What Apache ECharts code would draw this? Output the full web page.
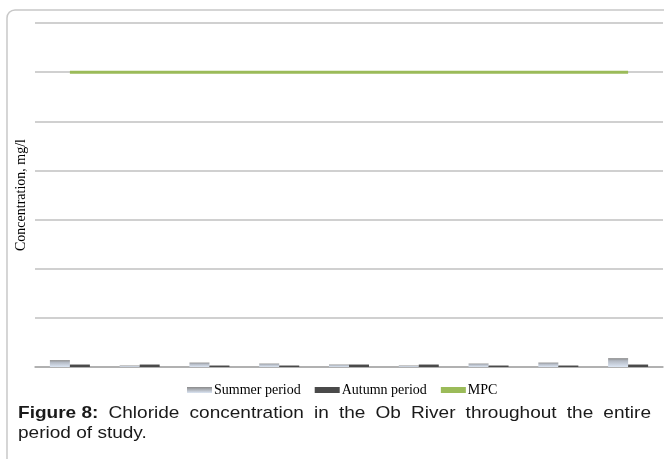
<!DOCTYPE html>
<html><head><meta charset="utf-8">
<script src="https://cdn.jsdelivr.net/npm/echarts@6/dist/echarts.min.js"></script>
<style>html,body{margin:0;padding:0;background:#fff}#c{width:664px;height:459px}</style>
</head><body><div id="c"></div>
<script>
const categories = ['1','2','3','4','5','6','7','8','9'];
const summerValues = [7, 1.5, 4.5, 3.5, 2.5, 1.5, 3.5, 4.5, 9];
const autumnValues = [2.5, 2.5, 1.5, 1.5, 2.5, 2.5, 1.5, 1.5, 2.5];
const mpcValues = [300, 300, 300, 300, 300, 300, 300, 300, 300];
const yMin = 0, yMax = 350, yStep = 50;
const seriesNames = ['Summer period', 'Autumn period', 'MPC'];
const yTitle = 'Concentration, mg/l';
const captionBold = 'Figure 8:';
const captionLine1 = 'Chloride concentration in the Ob River throughout the entire';
const captionLine2 = 'period of study.';

const chart = echarts.init(document.getElementById('c'));

// justified caption
const ctx = document.createElement('canvas').getContext('2d');
const fs = 17, fam = '"Liberation Sans", Arial, sans-serif', sx = 1.12;
const words = [{t: captionBold, b: true}].concat(captionLine1.split(' ').map(t => ({t, b: false})));
let total = 0;
words.forEach(w => { ctx.font = (w.b ? 'bold ' : '') + fs + 'px ' + fam; w.w = ctx.measureText(w.t).width * sx; total += w.w; });
const x0 = 18, x1 = 651;
const gap = (x1 - x0 - total) / (words.length - 1);
let cx = x0;
const capEls = [];
words.forEach(w => {
  capEls.push({type: 'text', x: cx, y: 405, scaleX: sx, style: {text: w.t, x: 0, y: 0, font: (w.b ? 'bold ' : '') + fs + 'px ' + fam, fill: '#1a1a1a'}});
  cx += w.w + gap;
});
capEls.push({type: 'text', x: x0, y: 425, scaleX: sx, style: {text: captionLine2, x: 0, y: 0, font: fs + 'px ' + fam, fill: '#1a1a1a'}});

const serif = '"Liberation Serif", "Times New Roman", serif';
chart.setOption({
  animation: false,
  backgroundColor: '#fff',
  grid: {left: 35, right: 1, top: 23, bottom: 92, containLabel: false},
  legend: {
    left: 182, top: 378, itemWidth: 25, itemHeight: 6, itemGap: 14,
    textStyle: {fontFamily: serif, fontSize: 14, color: '#000', padding: [0,0,0,-3]},
    data: [
      {name: seriesNames[0], icon: 'rect', itemStyle: {color: new echarts.graphic.LinearGradient(0,0,0,1,[{offset:0,color:'#8a8a8a'},{offset:1,color:'#dbe5f3'}])}},
      {name: seriesNames[1], icon: 'rect'},
      {name: seriesNames[2], icon: 'rect', itemHeight: 4, itemStyle: {color: '#9bbb59'}}
    ]
  },
  xAxis: {
    type: 'category', data: categories, boundaryGap: true,
    axisLine: {lineStyle: {color: '#a6a6a6', width: 1.5}},
    axisTick: {show: false}, axisLabel: {show: false}
  },
  yAxis: {
    type: 'value', min: yMin, max: yMax, interval: yStep,
    name: yTitle, nameLocation: 'middle', nameGap: 7, nameRotate: 90,
    nameTextStyle: {fontFamily: serif, fontSize: 14, color: '#000'},
    axisLine: {show: false}, axisTick: {show: false}, axisLabel: {show: false},
    splitLine: {lineStyle: {color: '#c0c0c0', width: 1.5}}
  },
  series: [
    {name: seriesNames[0], type: 'bar', data: summerValues, barWidth: 20, barGap: '0%',
     itemStyle: {color: new echarts.graphic.LinearGradient(0,0,0,1,[{offset:0,color:'#888888'},{offset:0.3,color:'#b3b9c3'},{offset:1,color:'#dce6f4'}])}},
    {name: seriesNames[1], type: 'bar', data: autumnValues, barWidth: 20, barGap: '0%',
     itemStyle: {color: '#4a4a4a'}},
    {name: seriesNames[2], type: 'line', data: mpcValues, symbol: 'none',
     lineStyle: {color: '#9bbb59', width: 3}, itemStyle: {color: '#9bbb59'}}
  ],
  graphic: [
    {type: 'rect', shape: {x: 7, y: 10, width: 700, height: 500, r: 8}, style: {fill: 'none', stroke: '#c8c8c8', lineWidth: 1.5}, silent: true, z: -1}
  ].concat(capEls)
});
</script></body></html>
